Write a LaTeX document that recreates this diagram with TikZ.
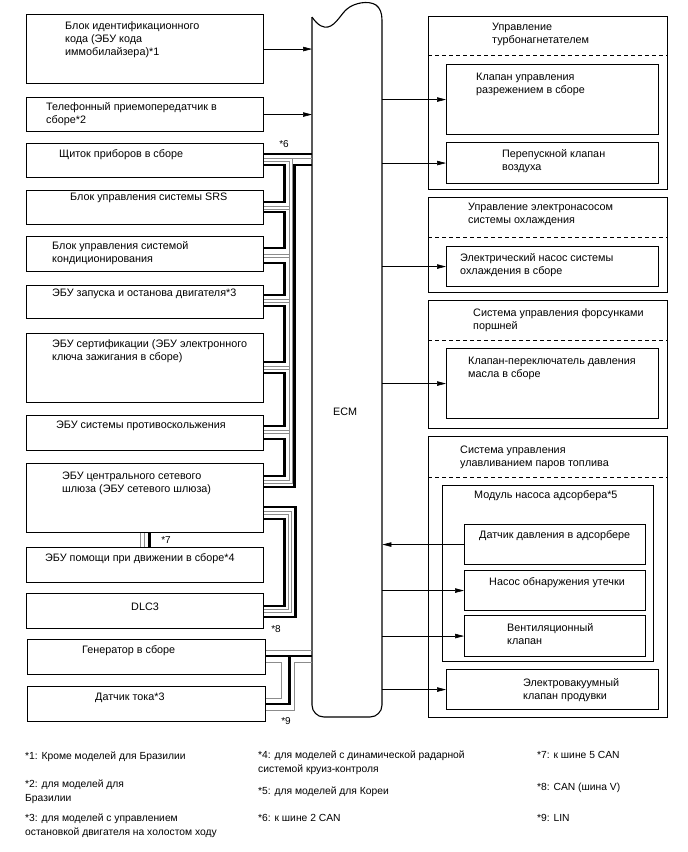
\documentclass[tikz,border=0pt]{standalone}
\usepackage{fontspec}
\setmainfont{Liberation Sans}
\usetikzlibrary{arrows.meta}

\begin{document}
\begin{tikzpicture}[x=1pt,y=-1pt,>={Triangle[length=9pt,width=4.5pt]},line join=miter,
  box/.style={draw,line width=1.1pt,anchor=north west,inner sep=0pt},
  lbl/.style={anchor=north west,inner sep=0pt,align=left,font=\fontsize{10.8}{13}\selectfont},
  sig/.style={->,line width=0.6pt},
  sepline/.style={line width=1pt,dash pattern=on 4pt off 3pt},
  canb/.style={line width=2.8pt},
  cang/.style={line width=0.7pt,draw=black!45},
  tag/.style={inner sep=0pt,font=\fontsize{10}{11}\selectfont},
  note/.style={anchor=north west,inner sep=0pt,align=left,font=\fontsize{10.3}{14}\selectfont}]
\useasboundingbox[fill=white] (0,0) rectangle (688,852);
% ECM
\node[anchor=north west,inner sep=0pt,minimum width=70,minimum height=700] (ecm) at (312,17) {};
\draw[line width=1.1pt,rounded corners=12] (312,17) -- (312,717) -- (382,717) -- (382,20);
\draw[line width=1.1pt] (312,17) .. controls (318,26) and (324,28) .. (328,27) .. controls (336,25) and (341,14) .. (347,9) .. controls (354,3) and (368,0) .. (376,5) .. controls (380,8) and (382,13) .. (382,20);
\node[lbl] (ecmlbl) at (333,408) {ECM};
% left side
\node[box,minimum width=237,minimum height=69] (immo) at (26,14) {};
\node[box,minimum width=237,minimum height=34] (phone) at (26,97) {};
\node[box,minimum width=237,minimum height=34] (cluster) at (26,143) {};
\node[box,minimum width=237,minimum height=34] (srs) at (26,190) {};
\node[box,minimum width=237,minimum height=35] (climate) at (26,236) {};
\node[box,minimum width=237,minimum height=33] (stst) at (26,285) {};
\node[box,minimum width=237,minimum height=69] (cert) at (26,333) {};
\node[box,minimum width=237,minimum height=35] (vsc) at (26,415) {};
\node[box,minimum width=237,minimum height=69] (gateway) at (26,463) {};
\node[box,minimum width=237,minimum height=35] (assist) at (26,547) {};
\node[box,minimum width=237,minimum height=35] (dlc) at (26,593) {};
\node[box,minimum width=238,minimum height=35] (gen) at (27,639) {};
\node[box,minimum width=238,minimum height=35] (cursens) at (27,686) {};
\node[lbl] at ([xshift=39,yshift=-7]immo.north west) {Блок идентификационного\\кода (ЭБУ кода\\иммобилайзера)*1};
\node[lbl] at ([xshift=20,yshift=-5]phone.north west) {Телефонный приемопередатчик в\\сборе*2};
\node[lbl] at ([xshift=33,yshift=-6]cluster.north west) {Щиток приборов в сборе};
\node[lbl] at ([xshift=44,yshift=-3]srs.north west) {Блок управления системы SRS};
\node[lbl] at ([xshift=26,yshift=-5]climate.north west) {Блок управления системой\\кондиционирования};
\node[lbl] at ([xshift=26,yshift=-4]stst.north west) {ЭБУ запуска и останова двигателя*3};
\node[lbl] at ([xshift=26,yshift=-6]cert.north west) {ЭБУ сертификации (ЭБУ электронного\\ключа зажигания в сборе)};
\node[lbl] at ([xshift=30,yshift=-6]vsc.north west) {ЭБУ системы противоскольжения};
\node[lbl] at ([xshift=36,yshift=-9]gateway.north west) {ЭБУ центрального сетевого\\шлюза (ЭБУ сетевого шлюза)};
\node[lbl] at ([xshift=19,yshift=-6]assist.north west) {ЭБУ помощи при движении в сборе*4};
\node[lbl,anchor=north] at ([yshift=-10]dlc.north) {DLC3};
\node[lbl] at ([xshift=55,yshift=-6]gen.north west) {Генератор в сборе};
\node[lbl] at ([xshift=68,yshift=-7]cursens.north west) {Датчик тока*3};
\draw[sig] (immo.east) -- (immo.east -| ecm.west);
\draw[sig] (phone.east) -- (phone.east -| ecm.west);
% CAN 2 bus
\draw[canb] ([yshift=-11]cluster.north east) coordinate (c6a) -- (c6a -| ecm.west);
\draw[cang] ([yshift=-15]cluster.north east) coordinate (c6b) -- (c6b -| ecm.west);
\draw[cang] ([yshift=-18.5]cluster.north east) -- ++(25,0) |- ([yshift=-17]gateway.north east);
\draw[cang] (c6b) ++(28,0) |- ([yshift=-20]gateway.north east);
\draw[canb] (c6a -| ecm.west) ++(0,11) -- ++(-17.5,0) |- ([yshift=-24]gateway.north east);
\draw[canb] ([yshift=-22]cluster.north east) -- ++(20,0) |- ([yshift=-12]srs.north east);
\draw[canb] ([yshift=-22]srs.north east) -- ++(20,0) |- ([yshift=-12]climate.north east);
\draw[canb] ([yshift=-27]climate.north east) -- ++(20,0) |- ([yshift=-10]stst.north east);
\draw[canb] ([yshift=-21]stst.north east) -- ++(20,0) |- ([yshift=-29]cert.north east);
\draw[canb] ([yshift=-40]cert.north east) -- ++(20,0) |- ([yshift=-11]vsc.north east);
\draw[canb] ([yshift=-24]vsc.north east) -- ++(20,0) |- ([yshift=-13]gateway.north east);
\foreach \ecu/\dy in {srs/16,climate/18,stst/14,cert/33,vsc/15}{
  \draw[cang] ([yshift=-\dy]\ecu.north east) -- ++(25,0);
  \draw[cang] ([yshift=-\dy-3]\ecu.north east) -- ++(25,0);
}
\node[tag] (t6) at (284,144) {*6};
% CAN 5
\foreach \dx/\st in {-4.5/cang,-0.5/cang,4.5/canb}
  \draw[\st] ([xshift=\dx]gateway.south) -- ([xshift=\dx]assist.north);
\node[tag] (t7) at (166,540) {*7};
% CAN V
\draw[canb] ([yshift=-56]gateway.north east) -- ++(20,0) |- ([yshift=-13]dlc.north east);
\draw[cang] ([yshift=-51]gateway.north east) -- ++(24,0) |- ([yshift=-16]dlc.north east);
\draw[cang] ([yshift=-48]gateway.north east) -- ++(27,0) |- ([yshift=-19]dlc.north east);
\draw[canb] ([yshift=-44]gateway.north east) -- ++(31,0) |- ([yshift=-24]dlc.north east);
\node[tag] (t8) at (276,629) {*8};
% LIN
\draw[cang] ([yshift=-11]gen.north east) coordinate (l9a) -- (l9a -| ecm.west);
\draw[canb] ([yshift=-17]gen.north east) coordinate (l9b) -- (l9b -| ecm.west);
\draw[canb] (l9b) ++(23,0) |- ([yshift=-18]cursens.north east);
\draw[cang] ([yshift=-23]gen.north east) -- ++(15,0) |- ([yshift=-12]cursens.north east);
\draw[cang] (l9b -| ecm.west) ++(0,6) -- ++(-18,0) |- ([yshift=-24]cursens.north east);
\node[tag] (t9) at (286,721) {*9};
% right side
\node[box,minimum width=239,minimum height=173] (tgrp) at (428,16) {};
\node[box,minimum width=212,minimum height=70] (vacv) at (446,64) {};
\node[box,minimum width=212,minimum height=41] (abv) at (446,142) {};
\node[box,minimum width=239,minimum height=95] (pgrp) at (428,197) {};
\node[box,minimum width=212,minimum height=40] (wpump) at (446,246) {};
\node[box,minimum width=239,minimum height=128] (ogrp) at (428,300) {};
\node[box,minimum width=212,minimum height=70] (ocv) at (446,348) {};
\node[box,minimum width=239,minimum height=281] (egrp) at (428,436) {};
\node[box,minimum width=211,minimum height=176] (canmod) at (442,485) {};
\node[box,minimum width=181,minimum height=40] (canp) at (464,524) {};
\node[box,minimum width=181,minimum height=40] (leak) at (464,570) {};
\node[box,minimum width=181,minimum height=41] (vent) at (464,615) {};
\node[box,minimum width=212,minimum height=40] (vsv) at (446,669) {};
\draw[sepline] ([yshift=-39]tgrp.north west) -- ([yshift=-39]tgrp.north east);
\draw[sepline] ([yshift=-40]pgrp.north west) -- ([yshift=-40]pgrp.north east);
\draw[sepline] ([yshift=-40]ogrp.north west) -- ([yshift=-40]ogrp.north east);
\draw[sepline] ([yshift=-41]egrp.north west) -- ([yshift=-41]egrp.north east);
\node[lbl] at ([xshift=64,yshift=-7]tgrp.north west) {Управление\\турбонагнетателем};
\node[lbl] at ([xshift=30,yshift=-9]vacv.north west) {Клапан управления\\разрежением в сборе};
\node[lbl] at ([xshift=56,yshift=-7]abv.north west) {Перепускной клапан\\воздуха};
\node[lbl] at ([xshift=40,yshift=-6]pgrp.north west) {Управление электронасосом\\системы охлаждения};
\node[lbl] at ([xshift=14,yshift=-7]wpump.north west) {Электрический насос системы\\охлаждения в сборе};
\node[lbl] at ([xshift=45,yshift=-8]ogrp.north west) {Система управления форсунками\\поршней};
\node[lbl] at ([xshift=22,yshift=-9]ocv.north west) {Клапан-переключатель давления\\масла в сборе};
\node[lbl] at ([xshift=32,yshift=-10]egrp.north west) {Система управления\\улавливанием паров топлива};
\node[lbl] at ([xshift=32,yshift=-5]canmod.north west) {Модуль насоса адсорбера*5};
\node[lbl] at ([xshift=15,yshift=-6]canp.north west) {Датчик давления в адсорбере};
\node[lbl] at ([xshift=25,yshift=-7]leak.north west) {Насос обнаружения утечки};
\node[lbl] at ([xshift=43,yshift=-8]vent.north west) {Вентиляционный\\клапан};
\node[lbl] at ([xshift=77,yshift=-9]vsv.north west) {Электровакуумный\\клапан продувки};
\draw[sig] (vacv.west -| ecm.east) -- (vacv.west);
\draw[sig] (abv.west -| ecm.east) -- (abv.west);
\draw[sig] (wpump.west -| ecm.east) -- (wpump.west);
\draw[sig] (ocv.west -| ecm.east) -- (ocv.west);
\draw[sig] (canp.west) -- (canp.west -| ecm.east);
\draw[sig] (leak.west -| ecm.east) -- (leak.west);
\draw[sig] (vent.west -| ecm.east) -- (vent.west);
\draw[sig] (vsv.west -| ecm.east) -- (vsv.west);
% footnotes
\node[note] (fn1) at (25,752) {*1: Кроме моделей для Бразилии};
\node[note] (fn2) at (25,780) {*2: для моделей для\\Бразилии};
\node[note] (fn3) at (25,814) {*3: для моделей с управлением\\остановкой двигателя на холостом ходу};
\node[note] (fn4) at (258,751) {*4: для моделей с динамической радарной\\системой круиз-контроля};
\node[note] (fn5) at (258,787) {*5: для моделей для Кореи};
\node[note] (fn6) at (258,814) {*6: к шине 2 CAN};
\node[note] (fn7) at (537,751) {*7: к шине 5 CAN};
\node[note] (fn8) at (537,783) {*8: CAN (шина V)};
\node[note] (fn9) at (537,814) {*9: LIN};
\end{tikzpicture}
\end{document}
